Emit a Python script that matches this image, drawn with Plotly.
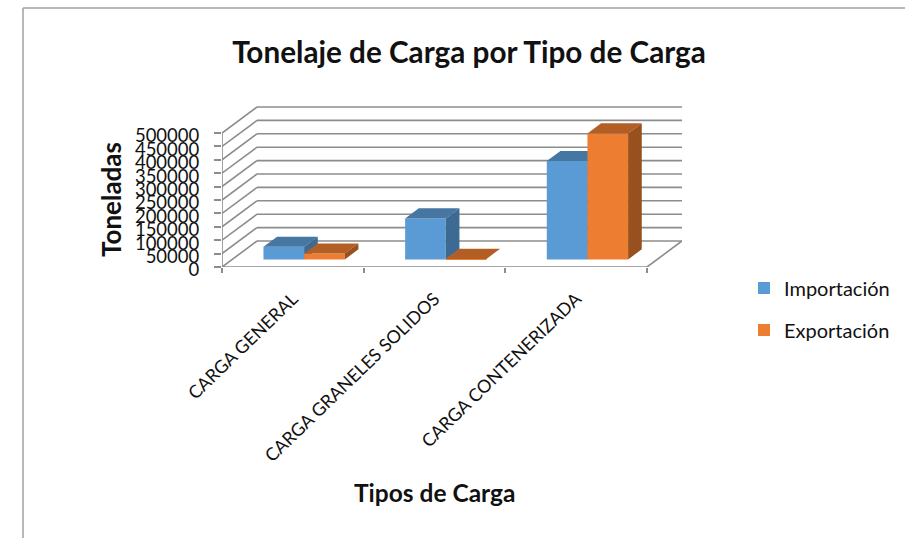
import plotly.graph_objects as go

categories = ["CARGA GENERAL", "CARGA GRANELES SOLIDOS", "CARGA CONTENERIZADA"]
importacion = [47000, 153000, 367000]
exportacion = [22000, 2000, 470000]
y_ticks = [0, 50000, 100000, 150000, 200000, 250000, 300000, 350000, 400000, 450000, 500000]

W, H = 905, 538
L, R, T, B = 222, 682, 106, 267
CAT_PX = (647 - 222) / 3
DX = 35 / CAT_PX            # depth shift of the back wall, in category units
PX_PER_VAL = 134 / 500000
DY = 26 / PX_PER_VAL        # depth shift of the back wall, in value units
X_MAX = (R - L) / CAT_PX
Y_MAX = (B - T) / PX_PER_VAL
BAR_W = 0.287
D0, D1 = 0.29, 0.68         # bar front / back position in depth
NUDGE = 0.008

GRID = "#8c8c8c"
BLUE, BLUE_TOP, BLUE_SIDE = "#5B9BD5", "#4676A2", "#3D6A92"
ORANGE, ORANGE_TOP, ORANGE_SIDE = "#ED7D31", "#B35E25", "#98501F"
FONT = "Lato"
TXT = "#111111"


def px(x):
    return (x - L) / (R - L)


def py(y):
    return (B - y) / (B - T)


def faces(values, first):
    """Return top and side polygons of the 3-D bars."""
    tx, ty, sx, sy = [], [], [], []
    for i, v in enumerate(values):
        x0 = i + 0.5 + (first - 1) * BAR_W + D0 * DX + NUDGE
        x1 = x0 + BAR_W
        b = D0 * DY
        sh_x = (D1 - D0) * DX
        sh_y = (D1 - D0) * DY
        tx += [x0, x1, x1 + sh_x, x0 + sh_x, x0, None]
        ty += [b + v, b + v, b + v + sh_y, b + v + sh_y, b + v, None]
        sx += [x1, x1 + sh_x, x1 + sh_x, x1, x1, None]
        sy += [b, b + sh_y, b + v + sh_y, b + v, b, None]
    return tx, ty, sx, sy


def add_series(fig, name, values, first, front, top, side, yaxis):
    xs = [i + 0.5 + (first - 0.5) * BAR_W + D0 * DX + NUDGE for i in range(len(values))]
    fig.add_trace(go.Bar(
        x=xs, y=values, base=D0 * DY, width=BAR_W, name=name, yaxis=yaxis, legendgroup=name,
        marker=dict(color=front, line=dict(width=0)), showlegend=True,
    ))
    tx, ty, sx, sy = faces(values, first)
    for fx, fy, c in ((tx, ty, top), (sx, sy, side)):
        fig.add_trace(go.Scatter(
            x=fx, y=fy, mode="lines", fill="toself", fillcolor=c, legendgroup=name,
            line=dict(width=0, color=c), showlegend=False, hoverinfo="skip", yaxis=yaxis,
        ))


fig = go.Figure()
add_series(fig, "Importación", importacion, 0, BLUE, BLUE_TOP, BLUE_SIDE, "y")
add_series(fig, "Exportación", exportacion, 1, ORANGE, ORANGE_TOP, ORANGE_SIDE, "y2")

shapes = []


def seg(x0, y0, x1, y1, width=1.6):
    shapes.append(dict(type="line", xref="x", yref="y", x0=x0, y0=y0, x1=x1, y1=y1,
                       layer="below", line=dict(color=GRID, width=width)))


for v in y_ticks:
    if v > 0:
        seg(DX, v + DY, X_MAX, v + DY)
    seg(0, v, DX, v + DY)
seg(0, 0, 0, 500000)                      # front vertical axis
seg(0, 0, 3, 0)                           # front floor edge
seg(3, 0, X_MAX, DY)                      # right floor edge
seg(DX, DY, X_MAX, DY)                    # back floor edge

# chart frame
for x0, y0, x1, y1 in ((23, 8, 905, 8), (23, 8, 23, 538)):
    shapes.append(dict(type="line", xref="paper", yref="paper",
                       x0=px(x0), y0=py(y0), x1=px(x1), y1=py(y1),
                       layer="below", line=dict(color="#a0a0a0", width=1.5)))

annotations = [
    dict(text="<b>Toneladas</b>", x=px(111), y=py(200), xref="paper", yref="paper",
         xanchor="center", yanchor="middle",
         showarrow=False, textangle=-90, font=dict(family=FONT, size=26, color=TXT)),
    dict(text="<b>Tipos de Carga</b>", x=px(434), y=py(493), xref="paper", yref="paper",
         xanchor="center", yanchor="middle",
         showarrow=False, font=dict(family=FONT, size=24.5, color=TXT)),
]

fig.update_layout(
    width=W, height=H, autosize=False,
    margin=dict(l=L, r=W - R, t=T, b=H - B, pad=0, autoexpand=False),
    paper_bgcolor="white", plot_bgcolor="rgba(0,0,0,0)",
    barmode="overlay",
    title=dict(text="<b>Tonelaje de Carga por Tipo de Carga</b>", x=469 / W, y=1 - 53 / H,
               xanchor="center", yanchor="middle", automargin=False,
               font=dict(family=FONT, size=29.7, color=TXT)),
    xaxis=dict(range=[0, X_MAX], tickmode="array", tickvals=[0.5, 1.5, 2.5], ticktext=categories,
               tickangle=-44, showgrid=False, zeroline=False, showline=False, ticks="",
               ticklabelstandoff=17, tickfont=dict(family=FONT, size=17.9, color=TXT),
               minor=dict(tick0=0, dtick=1, ticks="outside", ticklen=5, tickcolor=GRID, tickwidth=1.5)),
    yaxis=dict(range=[0, Y_MAX], tickmode="array", tickvals=y_ticks, showgrid=False, zeroline=False,
               showline=False, ticks="outside", ticklen=7, tickcolor=GRID, tickwidth=1.5,
               ticklabelstandoff=11, ticklabelshift=3, tickformat="d",
               tickfont=dict(family="Lato", size=18.5, color=TXT)),
    yaxis2=dict(range=[0, Y_MAX], overlaying="y", visible=False),
    legend=dict(x=px(744), y=py(309), yanchor="middle", xanchor="left", tracegroupgap=13,
                font=dict(family=FONT, size=20, color=TXT), bgcolor="rgba(0,0,0,0)", itemwidth=30),
    shapes=shapes, annotations=annotations,
)

fig.write_html("out.html", config=dict(displayModeBar=False),
               post_script="document.body.style.margin='0';")
